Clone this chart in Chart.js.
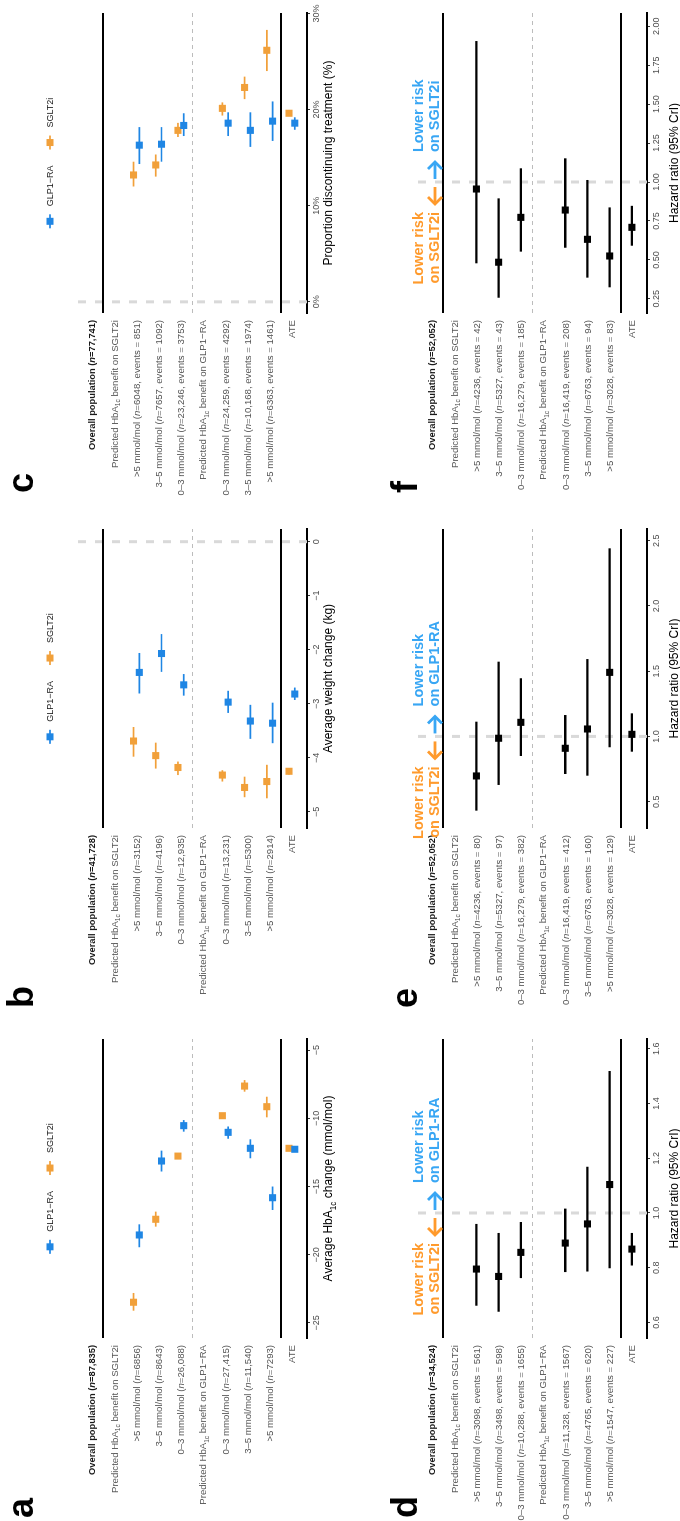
<!DOCTYPE html>
<html>
<head>
<meta charset="utf-8">
<title>GLP1-RA vs SGLT2i outcomes by predicted HbA1c benefit</title>
<script src="https://cdn.jsdelivr.net/npm/chart.js@4.4.1/dist/chart.umd.min.js"></script>
<style>
  html, body { margin: 0; padding: 0; background: #fff; width: 680px; height: 1521px; overflow: hidden; }
  #fig { position: absolute; left: 0; top: 0; width: 1521px; height: 680px; background: #fff;
         transform-origin: 0 0; transform: translateY(1521px) rotate(-90deg); }
  #fig canvas { position: absolute; }
</style>
</head>
<body>
<div id="fig"></div>
<script>
// ---------------- data ----------------
// Row order inside every panel (top to bottom):
// overall, SGLT2i-benefit header, >5, 3–5, 0–3, GLP1-RA-benefit header, 0–3, 3–5, >5, ATE
const subgroupHeaders = ['Predicted HbA_{1c} benefit on SGLT2i', 'Predicted HbA_{1c} benefit on GLP1−RA'];
const groupBands = ['>5', '3–5', '0–3', '0–3', '3–5', '>5'];

// a: average HbA1c change (mmol/mol)
const hba1cOverall = 'Overall population (*n*=87,835)';
const hba1cCounts = ['6856', '8643', '26,088', '27,415', '11,540', '7293'];
const hba1cGlpEst  = [-18.55, -13.13, -10.54, -11.03, -12.20, -15.82, -12.27];
const hba1cGlpLow  = [-19.45, -13.90, -10.98, -11.50, -12.93, -16.72, -12.45];
const hba1cGlpHigh = [-17.77, -12.37, -10.13, -10.60, -11.54, -15.00, -12.10];
const hba1cSgltEst  = [-23.48, -17.40, -12.77, -9.81, -7.64, -9.15, -12.20];
const hba1cSgltLow  = [-24.10, -17.94, -12.95, -9.98, -8.05, -9.93, -12.30];
const hba1cSgltHigh = [-22.80, -16.84, -12.60, -9.65, -7.20, -8.42, -12.10];
const hba1cTicks = [-25, -20, -15, -10, -5];

// b: average weight change (kg)
const weightOverall = 'Overall population (*n*=41,728)';
const weightCounts = ['3152', '4196', '12,935', '13,231', '5300', '2914'];
const weightGlpEst  = [-2.42, -2.07, -2.65, -2.97, -3.32, -3.36, -2.82];
const weightGlpLow  = [-2.81, -2.41, -2.85, -3.17, -3.65, -3.73, -2.93];
const weightGlpHigh = [-2.06, -1.71, -2.45, -2.76, -3.02, -2.98, -2.70];
const weightSgltEst  = [-3.69, -3.96, -4.18, -4.32, -4.55, -4.44, -4.25];
const weightSgltLow  = [-3.98, -4.20, -4.32, -4.44, -4.73, -4.75, -4.31];
const weightSgltHigh = [-3.43, -3.72, -4.07, -4.23, -4.35, -4.13, -4.19];
const weightTicks = [-5, -4, -3, -2, -1, 0];

// c: proportion discontinuing treatment (%)
const discOverall = 'Overall population (*n*=77,741)';
const discCounts = ['6048, events = 851', '7657, events = 1092', '23,246, events = 3753',
                    '24,259, events = 4292', '10,168, events = 1974', '6363, events = 1461'];
const discGlpEst  = [16.30, 16.40, 18.35, 18.59, 17.84, 18.80, 18.59];
const discGlpLow  = [14.34, 14.58, 17.25, 17.25, 16.12, 16.74, 17.90];
const discGlpHigh = [18.18, 18.18, 19.62, 19.72, 19.72, 20.85, 19.20];
const discSgltEst  = [13.20, 14.24, 17.84, 20.13, 22.30, 26.17, 19.62];
const discSgltLow  = [12.00, 13.03, 17.15, 19.38, 21.09, 24.01, 19.40];
const discSgltHigh = [14.58, 15.33, 18.62, 20.75, 23.43, 28.29, 19.85];
const discTicks = [0, 10, 20, 30];

// d: hazard ratio, first outcome
const hrDOverall = 'Overall population (*n*=34,524)';
const hrDCounts = ['3098, events = 561', '3498, events = 598', '10,288, events = 1655',
                   '11,328, events = 1567', '4765, events = 620', '1547, events = 227'];
const hrDEst  = [0.795, 0.768, 0.856, 0.890, 0.960, 1.104, 0.868];
const hrDLow  = [0.661, 0.639, 0.762, 0.784, 0.786, 0.798, 0.808];
const hrDHigh = [0.960, 0.927, 0.967, 1.016, 1.169, 1.519, 0.927];
const hrDTicks = [0.6, 0.8, 1.0, 1.2, 1.4, 1.6];

// e: hazard ratio, second outcome
const hrEOverall = 'Overall population (*n*=52,052)';
const hrECounts = ['4236, events = 80', '5327, events = 97', '16,279, events = 382',
                   '16,419, events = 412', '6763, events = 160', '3028, events = 129'];
const hrEEst  = [0.697, 0.986, 1.108, 0.909, 1.057, 1.491, 1.016];
const hrELow  = [0.431, 0.628, 0.850, 0.712, 0.699, 0.917, 0.883];
const hrEHigh = [1.113, 1.573, 1.446, 1.164, 1.593, 2.442, 1.177];
const hrETicks = [0.5, 1.0, 1.5, 2.0, 2.5];

// f: hazard ratio, third outcome
const hrFOverall = 'Overall population (*n*=52,052)';
const hrFCounts = ['4236, events = 42', '5327, events = 43', '16,279, events = 185',
                   '16,419, events = 208', '6763, events = 94', '3028, events = 83'];
const hrFEst  = [0.955, 0.485, 0.773, 0.820, 0.632, 0.525, 0.709];
const hrFLow  = [0.478, 0.257, 0.553, 0.578, 0.386, 0.324, 0.591];
const hrFHigh = [1.905, 0.895, 1.088, 1.152, 1.013, 0.837, 0.847];
const hrFTicks = [0.25, 0.50, 0.75, 1.00, 1.25, 1.50, 1.75, 2.00];

const seriesNames = ['GLP1−RA', 'SGLT2i'];
const riskLabels = {
  sglt: ['Lower risk', 'on SGLT2i'],
  glp: ['Lower risk', 'on GLP1-RA']
};

// ---------------- styling ----------------
const FONT = '"Liberation Sans", Arial, Helvetica, sans-serif';
const BLUE = '#1f86e4';
const ORANGE = '#f1a03a';
const NOTE_ORANGE = '#ff9a2c';
const NOTE_BLUE = '#38a6f4';
const GREY_TEXT = '#4d4d4d';
const PANEL_H = 340;
const LABEL_W = 183;
Chart.defaults.font.family = FONT;

const minus = v => String(v).replace('-', '−');

function rowLabels(overall, counts) {
  const g = counts.map((c, i) => `${groupBands[i]} mmol/mol (*n*=${c})`);
  return [overall, subgroupHeaders[0], g[0], g[1], g[2], subgroupHeaders[1], g[3], g[4], g[5], 'ATE'];
}
const DATA_ROWS = [2, 3, 4, 6, 7, 8, 9];

// --------------- rich text (italic *..*, subscript _{..}) ---------------
function parseRich(str) {
  const out = [];
  const re = /\*([^*]+)\*|_\{([^}]+)\}/g;
  let last = 0, m;
  while ((m = re.exec(str))) {
    if (m.index > last) out.push({ t: str.slice(last, m.index), s: 'n' });
    out.push(m[1] !== undefined ? { t: m[1], s: 'i' } : { t: m[2], s: 'sub' });
    last = re.lastIndex;
  }
  if (last < str.length) out.push({ t: str.slice(last), s: 'n' });
  return out;
}
function richFont(seg, size, bold) {
  const sz = seg.s === 'sub' ? size * 0.68 : size;
  return `${seg.s === 'i' ? 'italic ' : ''}${bold ? 'bold ' : ''}${sz}px ${FONT}`;
}
function drawRich(ctx, str, x, baseline, size, color, align, bold) {
  const segs = parseRich(str);
  let w = 0;
  segs.forEach(s => { ctx.font = richFont(s, size, bold); s.w = ctx.measureText(s.t).width; w += s.w; });
  let cx = align === 'right' ? x - w : align === 'center' ? x - w / 2 : x;
  ctx.fillStyle = color;
  ctx.textAlign = 'left';
  ctx.textBaseline = 'alphabetic';
  segs.forEach(s => {
    ctx.font = richFont(s, size, bold);
    ctx.fillText(s.t, cx, s.s === 'sub' ? baseline + size * 0.28 : baseline);
    cx += s.w;
  });
}

// chevron arrow from tail to tip (horizontal)
function arrow(ctx, tail, tip, y, color) {
  const dir = Math.sign(tip - tail);
  ctx.strokeStyle = color;
  ctx.lineWidth = 2.8;
  ctx.lineCap = 'butt';
  ctx.lineJoin = 'miter';
  ctx.beginPath();
  ctx.moveTo(tail, y); ctx.lineTo(tip - dir * 1.5, y);
  ctx.stroke();
  ctx.beginPath();
  ctx.moveTo(tip - dir * 7, y - 7);
  ctx.lineTo(tip, y);
  ctx.lineTo(tip - dir * 7, y + 7);
  ctx.stroke();
}

// --------------- panel decorations ---------------
function decor(p, rowIdx) {
  return {
    id: 'decor_' + p.letter,
    beforeDatasetsDraw(chart) {
      const { ctx, chartArea: ca, scales: { x, y } } = chart;
      ctx.save();
      if (p.ref !== null) {
        const px = x.getPixelForValue(p.ref);
        ctx.strokeStyle = '#d9d9d9';
        ctx.lineWidth = 3;
        ctx.setLineDash([8, 9]);
        ctx.beginPath(); ctx.moveTo(px, ca.top); ctx.lineTo(px, ca.bottom); ctx.stroke();
      }
      const yd = Math.round(y.getPixelForValue(4.5)) + 0.5;
      ctx.strokeStyle = '#bcbcbc';
      ctx.lineWidth = 1;
      ctx.setLineDash([4, 4]);
      ctx.beginPath(); ctx.moveTo(ca.left, yd); ctx.lineTo(ca.right, yd); ctx.stroke();
      ctx.setLineDash([]);
      ctx.strokeStyle = '#000';
      ctx.lineWidth = 2;
      [0.5, 8.5].forEach(r => {
        const yy = Math.round(y.getPixelForValue(r));
        ctx.beginPath(); ctx.moveTo(ca.left, yy); ctx.lineTo(ca.right, yy); ctx.stroke();
      });
      ctx.restore();
    },
    afterDraw(chart) {
      const { ctx, chartArea: ca, scales: { x, y } } = chart;
      ctx.save();
      // row labels
      p.labels.forEach((lab, k) => {
        const bold = k === 0;
        drawRich(ctx, lab, ca.left - 7, y.getPixelForValue(k) + 3.4, bold ? 9.3 : 9.6,
                 bold ? '#1a1a1a' : '#555555', 'right', bold);
      });
      // axis title
      drawRich(ctx, p.title, (ca.left + ca.right) / 2, (rowIdx === 0 ? 328 : 334) + 4.3, 12, '#000', 'center', false);
      // panel letter
      ctx.font = `bold 36px ${FONT}`;
      ctx.fillStyle = '#000';
      ctx.textAlign = 'left';
      ctx.textBaseline = 'alphabetic';
      ctx.fillText(p.letter, ca.left - 180, rowIdx === 0 ? 33 : 77);

      if (p.series.length > 1) {
        // legend
        ctx.font = `9px ${FONT}`;
        const widths = seriesNames.map(n => ctx.measureText(n).width);
        const total = 14 + 8 + widths[0] + 16 + 14 + 8 + widths[1];
        let cx = (ca.left + ca.right) / 2 - total / 2;
        const vy = 50;
        seriesNames.forEach((n, i) => {
          const col = p.series[i].color;
          ctx.fillStyle = col;
          ctx.fillRect(cx, vy - 0.85, 14, 1.7);
          ctx.fillRect(cx + 3.5, vy - 3.5, 7, 7);
          cx += 14 + 8;
          ctx.fillStyle = '#1a1a1a';
          ctx.textBaseline = 'middle';
          ctx.fillText(n, cx, vy + 0.5);
          cx += widths[i] + 16;
        });
      }
      if (p.notes) {
        const x1 = x.getPixelForValue(1);
        ctx.font = `bold 14.5px ${FONT}`;
        ctx.textBaseline = 'middle';
        ctx.fillStyle = NOTE_ORANGE;
        ctx.textAlign = 'right';
        ctx.fillText(p.notes[0][0], x1 - 30, 79);
        ctx.fillText(p.notes[0][1], x1 - 30, 95);
        ctx.fillStyle = NOTE_BLUE;
        ctx.textAlign = 'left';
        ctx.fillText(p.notes[1][0], x1 + 30, 79);
        ctx.fillText(p.notes[1][1], x1 + 30, 95);
        arrow(ctx, x1 - 5, x1 - 22, 95, NOTE_ORANGE);
        arrow(ctx, x1 + 3, x1 + 20, 95, NOTE_BLUE);
      }
      ctx.restore();
    }
  };
}

// --------------- panel construction ---------------
const fig = document.getElementById('fig');
function addCanvas(left, top, w, h) {
  const c = document.createElement('canvas');
  c.width = w; c.height = h;
  c.style.left = left + 'px'; c.style.top = top + 'px';
  c.style.width = w + 'px'; c.style.height = h + 'px';
  fig.appendChild(c);
  return c;
}

function buildPanel(p, rowIdx) {
  const top = rowIdx * PANEL_H;
  const cLeft = p.left - LABEL_W;
  const cRight = Math.min(p.right + 25, 1521);
  const canvas = addCanvas(cLeft, top, cRight - cLeft, PANEL_H);
  const two = p.series.length > 1;
  const datasets = [];
  p.series.forEach((s, si) => {
    const off = two ? (si === 0 ? 0.13 : -0.13) : 0;
    datasets.push({
      type: 'scatter',
      data: s.est.map((v, i) => ({ x: v, y: DATA_ROWS[i] + off })),
      pointStyle: 'rect', pointRadius: 5, pointHoverRadius: 5, pointBorderWidth: 0,
      backgroundColor: s.color, borderColor: s.color, order: si
    });
    datasets.push({
      type: 'bar', indexAxis: 'y',
      data: s.low.map((v, i) => ({ x: [v, s.high[i]], y: DATA_ROWS[i] + off })),
      backgroundColor: s.color, borderWidth: 0, barThickness: s.ci, grouped: false,
      inflateAmount: 0, order: 10 + si
    });
  });
  new Chart(canvas, {
    type: 'bar',
    data: { datasets },
    options: {
      responsive: false, animation: false, indexAxis: 'y',
      events: [],
      layout: { padding: { left: LABEL_W, right: cRight - p.right, top: 78, bottom: 0 } },
      plugins: { legend: { display: false }, tooltip: { enabled: false } },
      scales: {
        x: {
          type: 'linear', position: 'bottom', min: p.min, max: p.max, offset: false, beginAtZero: false,
          afterBuildTicks: sc => { sc.ticks = p.ticks.map(v => ({ value: v })); },
          afterFit: sc => { sc.height = 33; },
          ticks: { callback: v => p.fmt(v), font: { size: 9, family: FONT }, color: GREY_TEXT,
                   padding: 1, maxRotation: 0, autoSkip: false },
          grid: { display: true, drawOnChartArea: false, drawTicks: true, tickLength: 3,
                  color: '#333', tickColor: '#333', offset: false },
          border: { display: true, color: '#000', width: 2 }
        },
        y: { type: 'linear', min: -0.63, max: 9.68, reverse: true, display: false, offset: false,
             grid: { offset: false } }
      }
    },
    plugins: [decor(p, rowIdx)]
  });
}

const panels = [
  [
    { letter: 'a', left: 183, right: 482, min: -26.1, max: -4.19, ticks: hba1cTicks, fmt: minus, ref: null,
      title: 'Average HbA_{1c} change (mmol/mol)', labels: rowLabels(hba1cOverall, hba1cCounts),
      series: [
        { color: BLUE, est: hba1cGlpEst, low: hba1cGlpLow, high: hba1cGlpHigh, ci: 1.7 },
        { color: ORANGE, est: hba1cSgltEst, low: hba1cSgltLow, high: hba1cSgltHigh, ci: 1.7 }
      ] },
    { letter: 'b', left: 693, right: 992, min: -5.30, max: 0.235, ticks: weightTicks, fmt: minus, ref: 0,
      title: 'Average weight change (kg)', labels: rowLabels(weightOverall, weightCounts),
      series: [
        { color: BLUE, est: weightGlpEst, low: weightGlpLow, high: weightGlpHigh, ci: 1.7 },
        { color: ORANGE, est: weightSgltEst, low: weightSgltLow, high: weightSgltHigh, ci: 1.7 }
      ] },
    { letter: 'c', left: 1208, right: 1508, min: -1.16, max: 30.05, ticks: discTicks, fmt: v => v + '%', ref: 0,
      title: 'Proportion discontinuing treatment (%)', labels: rowLabels(discOverall, discCounts),
      series: [
        { color: BLUE, est: discGlpEst, low: discGlpLow, high: discGlpHigh, ci: 1.7 },
        { color: ORANGE, est: discSgltEst, low: discSgltLow, high: discSgltHigh, ci: 1.7 }
      ] }
  ],
  [
    { letter: 'd', left: 183, right: 482, min: 0.543, max: 1.636, ticks: hrDTicks, fmt: v => v.toFixed(1), ref: 1,
      title: 'Hazard ratio (95% CrI)', labels: rowLabels(hrDOverall, hrDCounts),
      notes: [riskLabels.sglt, riskLabels.glp],
      series: [{ color: '#000', est: hrDEst, low: hrDLow, high: hrDHigh, ci: 2.3 }] },
    { letter: 'e', left: 693, right: 992, min: 0.298, max: 2.59, ticks: hrETicks, fmt: v => v.toFixed(1), ref: 1,
      title: 'Hazard ratio (95% CrI)', labels: rowLabels(hrEOverall, hrECounts),
      notes: [riskLabels.sglt, riskLabels.glp],
      series: [{ color: '#000', est: hrEEst, low: hrELow, high: hrEHigh, ci: 2.3 }] },
    { letter: 'f', left: 1208, right: 1508, min: 0.159, max: 2.085, ticks: hrFTicks, fmt: v => v.toFixed(2), ref: 1,
      title: 'Hazard ratio (95% CrI)', labels: rowLabels(hrFOverall, hrFCounts),
      notes: [riskLabels.sglt, riskLabels.sglt],
      series: [{ color: '#000', est: hrFEst, low: hrFLow, high: hrFHigh, ci: 2.3 }] }
  ]
];

panels.forEach((row, r) => row.forEach(p => buildPanel(p, r)));
</script>
</body>
</html>
